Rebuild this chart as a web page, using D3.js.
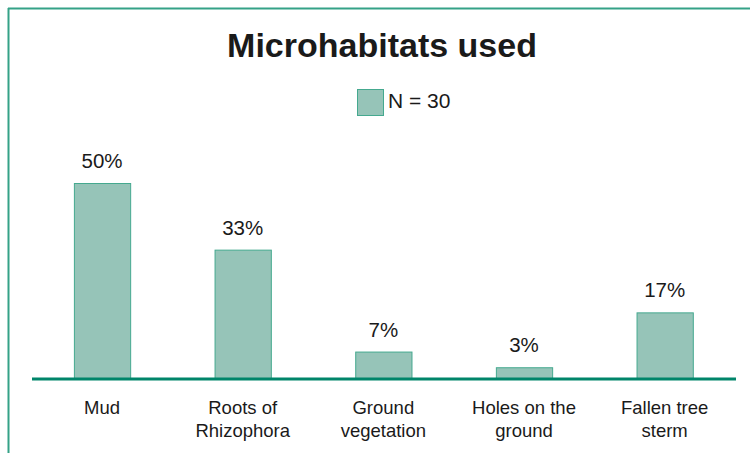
<!DOCTYPE html>
<html>
<head>
<meta charset="utf-8">
<script src="https://cdn.jsdelivr.net/npm/d3@7"></script>
<style>
  html, body { margin: 0; padding: 0; background: #fff; }
  svg { display: block; }
  text { font-family: "Liberation Sans", Arial, Helvetica, sans-serif; fill: #1a1a1a; }
</style>
</head>
<body>
<svg id="chart" width="750" height="453"></svg>
<script>
const categories = [["Mud"], ["Roots of", "Rhizophora"], ["Ground", "vegetation"], ["Holes on the", "ground"], ["Fallen tree", "sterm"]];
const values = [50, 33, 7, 3, 17];
const valueLabels = ["50%", "33%", "7%", "3%", "17%"];
const title = "Microhabitats used";
const legendLabel = "N = 30";

const svg = d3.select("#chart");
const W = 750, H = 453;
const baseY = 379;
const fill = "#96c4b8", stroke = "#45a98f", axisColor = "#00856a", frameColor = "#35a287";

// Frame (top and left lines)
svg.append("line").attr("x1", 8).attr("x2", W + 5).attr("y1", 8.5).attr("y2", 8.5)
  .attr("stroke", frameColor).attr("stroke-width", 2);
svg.append("line").attr("x1", 8.5).attr("x2", 8.5).attr("y1", 8).attr("y2", H + 5)
  .attr("stroke", frameColor).attr("stroke-width", 2);

const keys = categories.map((c, i) => String(i));
const x = d3.scaleBand().domain(keys).range([31.7, 735]).paddingInner(0.6).paddingOuter(0.3);
const y = d3.scaleLinear().domain([0, 50]).range([baseY, 183]);

// Title
svg.append("text").attr("x", 382).attr("y", 57).attr("text-anchor", "middle")
  .attr("font-size", 34).attr("font-weight", "bold").text(title);

// Legend
svg.append("rect").attr("x", 357.5).attr("y", 89.5).attr("width", 26).attr("height", 26)
  .attr("fill", fill).attr("stroke", stroke).attr("stroke-width", 1);
svg.append("text").attr("x", 388).attr("y", 107.5).attr("font-size", 21).text(legendLabel);

// Bars
svg.selectAll("rect.bar").data(values).enter().append("rect").attr("class", "bar")
  .attr("x", (d, i) => x(keys[i]) + 0.5)
  .attr("y", d => y(d) + 0.5)
  .attr("width", x.bandwidth())
  .attr("height", d => baseY - y(d))
  .attr("fill", fill).attr("stroke", stroke).attr("stroke-width", 1);

// Value labels
svg.selectAll("text.val").data(values).enter().append("text").attr("class", "val")
  .attr("x", (d, i) => x(keys[i]) + x.bandwidth() / 2)
  .attr("y", d => y(d) - 15)
  .attr("text-anchor", "middle").attr("font-size", 20.5)
  .text((d, i) => valueLabels[i]);

// Axis line (x axis, no ticks)
const axis = d3.axisBottom(x).tickSize(0).tickFormat("");
const ag = svg.append("g").attr("transform", `translate(0,${baseY})`).call(axis);
ag.select(".domain").attr("d", "M32,0H736").attr("stroke", axisColor).attr("stroke-width", 3);

// Category labels
categories.forEach((lines, i) => {
  const t = svg.append("text").attr("x", x(keys[i]) + x.bandwidth() / 2).attr("y", 413.5)
    .attr("text-anchor", "middle").attr("font-size", 18.5);
  lines.forEach((ln, j) => {
    t.append("tspan").attr("x", x(keys[i]) + x.bandwidth() / 2).attr("dy", j === 0 ? 0 : 23).text(ln);
  });
});
</script>
</body>
</html>
